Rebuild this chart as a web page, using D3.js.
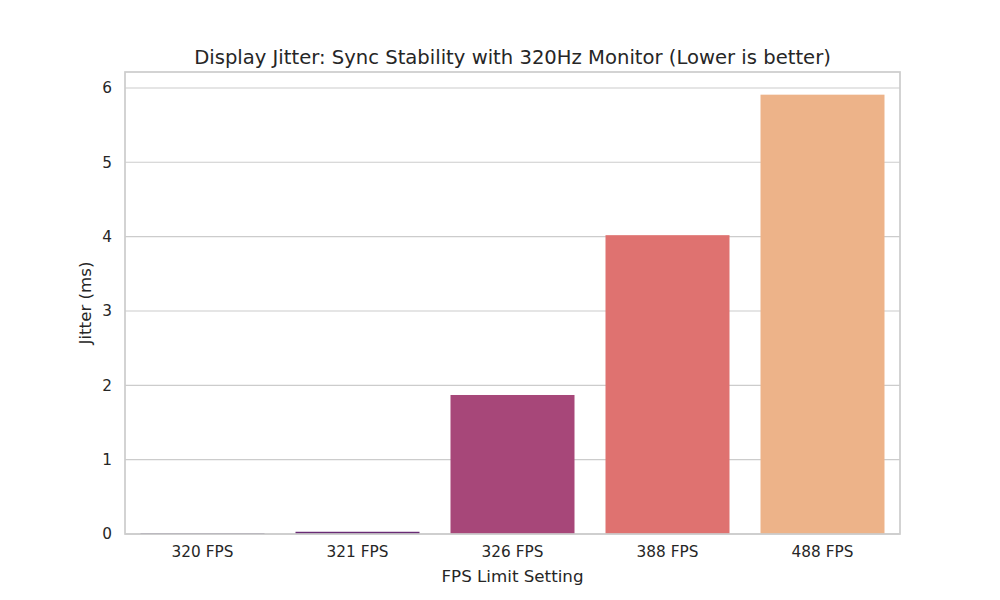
<!DOCTYPE html>
<html>
<head>
<meta charset="utf-8">
<script src="https://cdn.jsdelivr.net/npm/d3@7"></script>
<style>
  body { margin: 0; background: #fff; }
  text { font-family: "DejaVu Sans", sans-serif; fill: #262626; }
</style>
</head>
<body>
<script>
// chart values
const categories = ["320 FPS", "321 FPS", "326 FPS", "388 FPS", "488 FPS"];
const jitter = [0.01, 0.03, 1.87, 4.02, 5.91];
const yTicks = [0, 1, 2, 3, 4, 5, 6];
// magma palette, 5 steps (seaborn style)
const baseColors = ["#2c115f", "#721f81", "#b73779", "#f1605d", "#feb078"];

const width = 1000, height = 600;
const margin = {top: 72, right: 100, bottom: 66, left: 125};
const w = width - margin.left - margin.right,
      h = height - margin.top - margin.bottom;

// seaborn barplot desaturates fills to 0.75
function desat(c) {
    let hsl = d3.hsl(c);
    hsl.s *= 0.75;
    return hsl.formatHex();
}

var svg = d3.select("body")
            .append("svg")
            .attr("width", width)
            .attr("height", height);

var g = svg.append("g")
           .attr("transform", "translate(" + margin.left + "," + margin.top + ")");

let x = d3.scaleBand()
          .domain(categories)
          .range([0, w])
          .paddingInner(0.2)
          .paddingOuter(0.1);

let y = d3.scaleLinear()
          .domain([0, 6.215])
          .range([h, 0]);

// grid lines
g.append("g")
 .selectAll("line")
 .data(yTicks).enter()
 .append("line")
 .attr("x1", 0)
 .attr("x2", w)
 .attr("y1", d => y(d))
 .attr("y2", d => y(d))
 .attr("stroke", "#cccccc")
 .attr("stroke-width", 1.1);

// bars
g.selectAll("rect.bar")
 .data(jitter).enter()
 .append("rect")
 .attr("class", "bar")
 .attr("x", (d, i) => x(categories[i]))
 .attr("width", x.bandwidth())
 .attr("y", d => y(d))
 .attr("height", d => h - y(d))
 .attr("fill", (d, i) => desat(baseColors[i]));

// axes frame
g.append("rect")
 .attr("width", w)
 .attr("height", h)
 .attr("fill", "none")
 .attr("stroke", "#cccccc")
 .attr("stroke-width", 1.7);

let yAxis = d3.axisLeft(y).tickValues(yTicks).tickFormat(d3.format("d"))
              .tickSize(0).tickPadding(13);
let xAxis = d3.axisBottom(x).tickSize(0).tickPadding(12);

g.append("g")
 .attr("class", "y axis")
 .call(yAxis)
 .call(a => a.select(".domain").remove())
 .selectAll("text")
 .style("font-size", "15.3px")
 .attr("fill", "#262626");

g.append("g")
 .attr("class", "x axis")
 .attr("transform", "translate(0," + h + ")")
 .call(xAxis)
 .call(a => a.select(".domain").remove())
 .selectAll("text")
 .style("font-size", "15.3px")
 .attr("fill", "#262626");

// labels
svg.append("text")
   .attr("x", margin.left + w / 2)
   .attr("y", 64)
   .attr("text-anchor", "middle")
   .style("font-size", "19.6px")
   .text("Display Jitter: Sync Stability with 320Hz Monitor (Lower is better)");

svg.append("text")
   .attr("x", margin.left + w / 2)
   .attr("y", 582)
   .attr("text-anchor", "middle")
   .style("font-size", "16.7px")
   .text("FPS Limit Setting");

svg.append("text")
   .attr("transform", "translate(91," + (margin.top + h / 2) + ") rotate(-90)")
   .attr("text-anchor", "middle")
   .style("font-size", "16.7px")
   .text("Jitter (ms)");
</script>
</body>
</html>
